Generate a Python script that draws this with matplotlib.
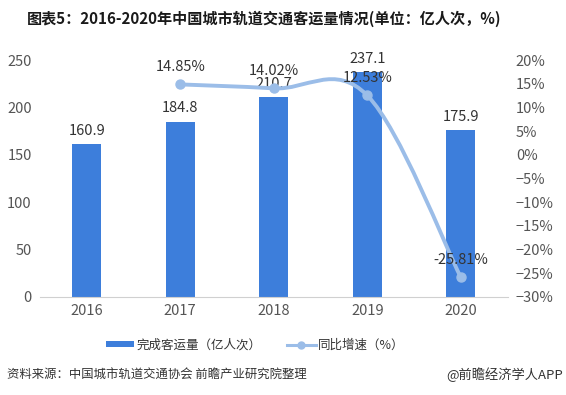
import matplotlib
matplotlib.use("Agg")
import matplotlib.pyplot as plt
from matplotlib.path import Path
from matplotlib.patches import PathPatch
from matplotlib.lines import Line2D
from matplotlib.patches import Patch

plt.rcParams['font.family'] = ['Noto Sans CJK SC', 'DejaVu Sans']

years = ['2016', '2017', '2018', '2019', '2020']
volume = [160.9, 184.8, 210.7, 237.1, 175.9]
growth_years = ['2017', '2018', '2019', '2020']
growth = [14.85, 14.02, 12.53, -25.81]
left_ticks = [0, 50, 100, 150, 200, 250]
right_ticks = [20, 15, 10, 5, 0, -5, -10, -15, -20, -25, -30]

bar_color = '#3D7EDB'
line_color = '#9BBDE8'
text_color = '#333333'
tick_color = '#555555'

fig = plt.figure(figsize=(5.66, 3.95), dpi=100)
ax = fig.add_axes([40/566, 1-297/395, (507.5-40)/566, (297-60)/395])
x = list(range(len(years)))
ax.bar(x, volume, width=0.31, color=bar_color, zorder=2)
ax.set_xlim(-0.5, len(years)-0.5)
ax.set_ylim(0, 250)
ax.set_yticks(left_ticks)
ax.set_xticks(x)
ax.set_xticklabels(years)
for s in ['top', 'right', 'left']:
    ax.spines[s].set_visible(False)
ax.spines['bottom'].set_color('#D0D0D0')
ax.tick_params(axis='both', length=0, labelsize=10.5, colors=tick_color, pad=6)
ax.tick_params(axis='x', pad=5)
for xi, v in zip(x, volume):
    ax.text(xi, v + 7, f'{v}', ha='center', va='bottom', fontsize=10.5, color=text_color, zorder=5)

ax2 = ax.twinx()
ax2.set_ylim(-30, 20)
ax2.set_yticks(right_ticks)
ax2.set_yticklabels([f'{t}%'.replace('-', '−') for t in right_ticks])
for s in ['top', 'right', 'left', 'bottom']:
    ax2.spines[s].set_visible(False)
ax2.tick_params(axis='y', length=0, labelsize=10.5, colors=tick_color, pad=6)

gx = [years.index(g) for g in growth_years]
# smooth curve via cubic Bezier segments (Catmull-Rom style control points)
pts = list(zip(gx, growth))
verts = [pts[0]]
codes = [Path.MOVETO]
t = 0.35
for i in range(len(pts)-1):
    p0 = pts[i-1] if i > 0 else pts[i]
    p1 = pts[i]
    p2 = pts[i+1]
    p3 = pts[i+2] if i+2 < len(pts) else pts[i+1]
    c1 = (p1[0] + (p2[0]-p0[0])*t/2, p1[1] + (p2[1]-p0[1])*t/2)
    c2 = (p2[0] - (p3[0]-p1[0])*t/2, p2[1] - (p3[1]-p1[1])*t/2)
    verts += [c1, c2, p2]
    codes += [Path.CURVE4]*3
path = Path(verts, codes)
ax2.add_patch(PathPatch(path, facecolor='none', edgecolor=line_color, lw=2.8, zorder=3, capstyle='round'))
ax2.plot(gx, growth, 'o', color=line_color, markersize=6.5, zorder=4)
for xi, g in zip(gx, growth):
    ax2.text(xi, g + 2.2, f'{g:.2f}%', ha='center', va='bottom', fontsize=10.5, color=text_color, zorder=5)

fig.text(27/566, 1-19/395, '图表5：2016-2020年中国城市轨道交通客运量情况(单位：亿人次，%)',
         fontsize=10.9, fontweight='bold', color='#1a1a1a', va='center', ha='left')

handles = [Patch(facecolor=bar_color, edgecolor='none'),
           Line2D([0], [0], color=line_color, lw=2.2, marker='o', markersize=5)]
fig.legend(handles, ['完成客运量（亿人次）', '同比增速（%）'], loc='center',
           bbox_to_anchor=(255/566, 1-345/395), ncol=2, frameon=False,
           fontsize=9, handlelength=2.3, handleheight=0.45, columnspacing=2.0,
           handletextpad=0.2, labelcolor=text_color)

fig.text(7/566, 1-375/395, '资料来源：中国城市轨道交通协会 前瞻产业研究院整理', fontsize=8.9,
         color=text_color, va='center', ha='left')
fig.text(563/566, 1-375/395, '@前瞻经济学人APP', fontsize=9.5, color=text_color,
         va='center', ha='right')

fig.savefig('out.png', dpi=100)
